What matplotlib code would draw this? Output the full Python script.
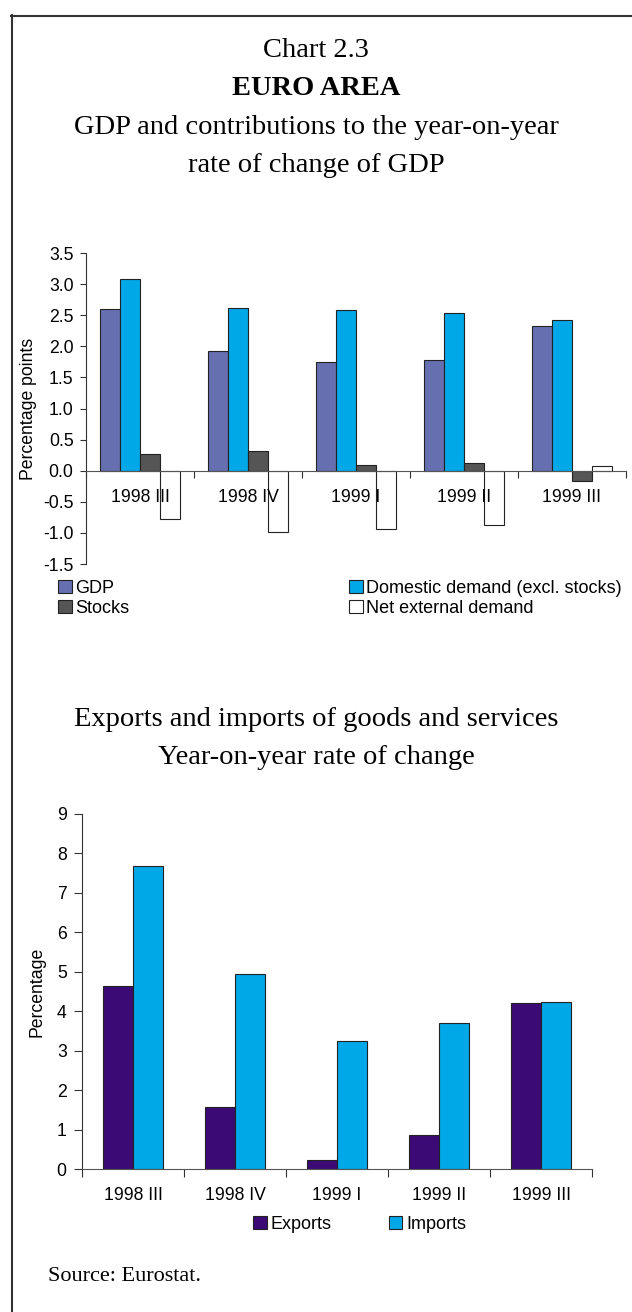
import numpy as np
import matplotlib.pyplot as plt
from matplotlib.patches import Patch
from matplotlib.lines import Line2D

plt.rcParams['font.family'] = ['Liberation Sans', 'DejaVu Sans']

quarters = ['1998 III', '1998 IV', '1999 I', '1999 II', '1999 III']

# contributions to GDP growth (percentage points)
gdp = [2.60, 1.93, 1.74, 1.78, 2.33]
domestic = [3.09, 2.62, 2.58, 2.53, 2.43]
stocks = [0.27, 0.31, 0.09, 0.13, -0.17]
net_external = [-0.78, -0.98, -0.93, -0.87, 0.08]

# exports / imports, year-on-year % change
exports = [4.64, 1.58, 0.23, 0.86, 4.20]
imports = [7.68, 4.94, 3.24, 3.69, 4.24]

c_gdp = '#6670b0'
c_dom = '#00a8e8'
c_stk = '#555555'
c_exp = '#3c0a74'

W, H = 632, 1312
fig = plt.figure(figsize=(W / 100, H / 100), dpi=100)

def fx(px):
    return px / W

def fy(py):
    return 1 - py / H

# frame
fig.add_artist(Line2D([fx(11), fx(632)], [fy(15.5), fy(15.5)], color='#333333', lw=1.5))
fig.add_artist(Line2D([fx(11.5), fx(11.5)], [fy(15), fy(1312)], color='#333333', lw=1.5))

serif = 'Liberation Serif'
tsize = 20.5
fig.text(0.5, fy(57), 'Chart 2.3', ha='center', va='baseline', family=serif, size=tsize)
fig.text(0.5, fy(95), 'EURO AREA', ha='center', va='baseline', family=serif, size=tsize, weight='bold')
fig.text(0.5, fy(134), 'GDP and contributions to the year-on-year', ha='center', va='baseline', family=serif, size=tsize)
fig.text(0.5, fy(172), 'rate of change of GDP', ha='center', va='baseline', family=serif, size=tsize)
fig.text(0.5, fy(726), 'Exports and imports of goods and services', ha='center', va='baseline', family=serif, size=tsize)
fig.text(0.5, fy(764), 'Year-on-year rate of change', ha='center', va='baseline', family=serif, size=tsize)
fig.text(fx(48), fy(1281), 'Source: Eurostat.', ha='left', va='baseline', family=serif, size=16)

fs = 12.7
x = np.arange(len(quarters))

def style_axis(ax):
    ax.set_xlim(-0.5, len(quarters) - 0.5)
    for s in ['top', 'right']:
        ax.spines[s].set_visible(False)
    ax.spines['left'].set_color('#333333')
    ax.spines['bottom'].set_color('#555555')
    ax.set_xticks(np.arange(len(quarters) + 1) - 0.5)
    ax.set_xticklabels([])
    ax.set_xticks(x, minor=True)
    ax.set_xticklabels(quarters, minor=True, fontsize=fs)
    ax.tick_params(axis='x', which='major', direction='out', length=5, color='#333333')
    ax.tick_params(axis='x', which='minor', length=0, pad=13, labelsize=fs)
    ax.tick_params(axis='y', direction='out', length=4, pad=5, labelsize=fs, color='#333333')

# top panel
ax1 = fig.add_axes([fx(86), fy(564), fx(626 - 86), (564 - 253) / H])
bw = 0.185
ax1.bar(x - 1.5 * bw, gdp, bw, color=c_gdp, edgecolor='#222222', lw=0.8)
ax1.bar(x - 0.5 * bw, domestic, bw, color=c_dom, edgecolor='#222222', lw=0.8)
ax1.bar(x + 0.5 * bw, stocks, bw, color=c_stk, edgecolor='#222222', lw=0.8)
ax1.bar(x + 1.5 * bw, net_external, bw, color='white', edgecolor='#222222', lw=0.8)
ax1.set_ylim(-1.5, 3.5)
ax1.spines['bottom'].set_position(('data', 0))
yt = np.arange(-1.5, 3.51, 0.5)
ax1.set_yticks(yt)
ax1.set_yticklabels(['%.1f' % v for v in yt])
style_axis(ax1)
ax1.set_ylabel('Percentage points', fontsize=fs, labelpad=4)

hk = dict(edgecolor='#222222', lw=0.8)
leg_kw = dict(frameon=False, fontsize=13, handlelength=0.75, handleheight=0.75,
              handletextpad=0.2, labelspacing=0.15, borderpad=0, borderaxespad=0)
fig.legend(handles=[Patch(facecolor=c_gdp, **hk), Patch(facecolor=c_stk, **hk)],
           labels=['GDP', 'Stocks'], loc='upper left',
           bbox_to_anchor=(fx(58), fy(580)), **leg_kw)
fig.legend(handles=[Patch(facecolor=c_dom, **hk), Patch(facecolor='white', **hk)],
           labels=['Domestic demand (excl. stocks)', 'Net external demand'], loc='upper left',
           bbox_to_anchor=(fx(349), fy(580)), **leg_kw)

# bottom panel
ax2 = fig.add_axes([fx(82), fy(1169), fx(592 - 82), (1169 - 814) / H])
bw2 = 0.29
ax2.bar(x - 0.5 * bw2, exports, bw2, color=c_exp, edgecolor='#222222', lw=0.8)
ax2.bar(x + 0.5 * bw2, imports, bw2, color=c_dom, edgecolor='#222222', lw=0.8)
ax2.set_ylim(0, 9)
ax2.set_yticks(range(0, 10))
style_axis(ax2)
ax2.tick_params(axis='x', which='major', length=6)
ax2.tick_params(axis='y', length=6, pad=5)
ax2.set_ylabel('Percentage', fontsize=fs, labelpad=8)

fig.legend(handles=[Patch(facecolor=c_exp, **hk), Patch(facecolor=c_dom, **hk)],
           labels=['Exports', 'Imports'], loc='upper left', ncol=2, columnspacing=3.2,
           bbox_to_anchor=(fx(253), fy(1216)), **leg_kw)

fig.savefig('out.png', dpi=100)
